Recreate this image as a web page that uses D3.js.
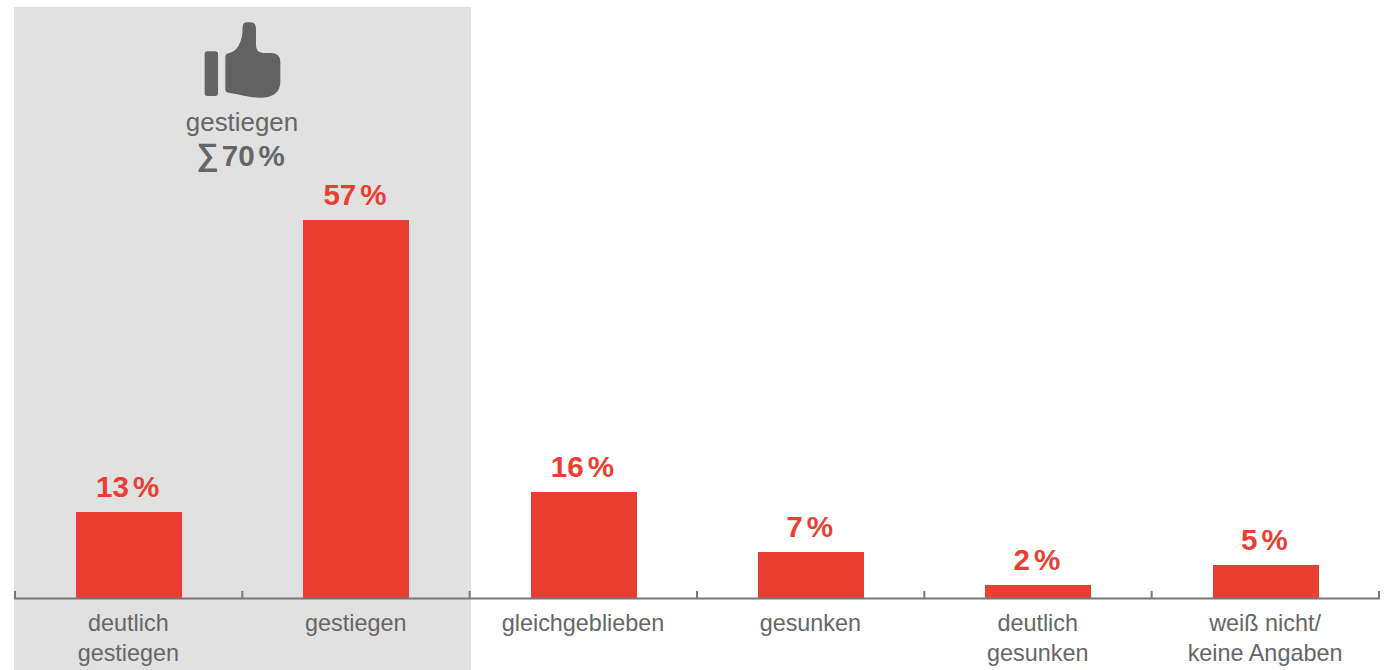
<!DOCTYPE html>
<html><head><meta charset="utf-8">
<script src="https://cdn.jsdelivr.net/npm/d3@7"></script>
<style>html,body{margin:0;padding:0;background:#fff}svg{display:block}text{font-family:"Liberation Sans",Arial,sans-serif}</style>
</head><body><div id="c"></div>
<script>
const categories = ["deutlich|gestiegen","gestiegen","gleichgeblieben","gesunken","deutlich|gesunken","weiß nicht/|keine Angaben"];
const values = [13,57,16,7,2,5];
const valueLabels = ["13","57","16","7","2","5"];
const summaryLabel = "gestiegen";
const summaryValue = "70";
const W=1388,H=670, base=598;
const svg=d3.select("#c").append("svg").attr("width",W).attr("height",H);
const x=d3.scaleBand().domain(categories).range([15,1379]).padding(0);
const y=d3.scaleLinear().domain([0,57]).range([base,220]);
const barW=106;
svg.append("rect").attr("x",14).attr("y",7).attr("width",457).attr("height",663).attr("fill","#e1e1e1");
svg.selectAll("rect.bar").data(values).join("rect").attr("class","bar")
 .attr("x",(d,i)=>Math.round(x(categories[i])+x.bandwidth()/2-barW/2+0.3)).attr("width",barW)
 .attr("y",d=>Math.round(y(d))).attr("height",d=>base-Math.round(y(d))).attr("fill","#ea3e33");
// axis
const axisColor="#777";
svg.append("line").attr("x1",14).attr("x2",1380).attr("y1",598.5).attr("y2",598.5).attr("stroke",axisColor).attr("stroke-width",2);
const ticks=categories.map(c=>x(c)).concat([x.range()[1]]);
svg.selectAll("line.t").data(ticks).join("line").attr("class","t")
 .attr("x1",d=>d).attr("x2",d=>d).attr("y1",591).attr("y2",598).attr("stroke",axisColor).attr("stroke-width",2);
// category labels
categories.forEach((c,i)=>{
  c.split("|").forEach((s,j)=>{
    svg.append("text").attr("x",x(c)+x.bandwidth()/2-0.3).attr("y",631+j*30).attr("text-anchor","middle")
      .attr("font-size",23.4).attr("fill","#666").text(s);
  });
});
// value labels
const vt=svg.selectAll("text.v").data(values).join("text").attr("class","v")
 .attr("x",(d,i)=>x(categories[i])+x.bandwidth()/2-1).attr("y",d=>y(d)-15)
 .attr("text-anchor","middle").attr("font-size",29.6).attr("font-weight",700).attr("fill","#ea3e33");
vt.append("tspan").text((d,i)=>valueLabels[i]);
vt.append("tspan").attr("dx",4).text("%");
// icon
const g=svg.append("g").attr("transform","translate(170,10) scale(0.3333)").attr("fill","#636363");
g.append("rect").attr("x",104).attr("y",124).attr("width",40).attr("height",134).attr("rx",8);
g.append("path").attr("d","M166 140 Q166 132 174 130 C200 125 218 100 218 50 Q218 37 232 37 L240 37 Q258 37 258 55 L258 105 Q258 128 280 129 L305 129 Q331 131 331 155 L331 215 Q331 262 270 263 C240 263 220 255 175 248 Q166 246 166 240 Z");
svg.append("text").attr("x",242).attr("y",131).attr("text-anchor","middle").attr("font-size",25.9).attr("fill","#666").text(summaryLabel);
const st=svg.append("text").attr("x",253.3).attr("y",166).attr("text-anchor","middle").attr("font-size",29.6).attr("font-weight",700).attr("fill","#666");
st.append("tspan").text(summaryValue);
st.append("tspan").attr("dx",4).text("%");
svg.append("text").attr("x",207.5).attr("y",164.5).attr("text-anchor","middle").attr("font-size",31).attr("font-weight",700).attr("fill","#666").text("∑");
</script></body></html>
